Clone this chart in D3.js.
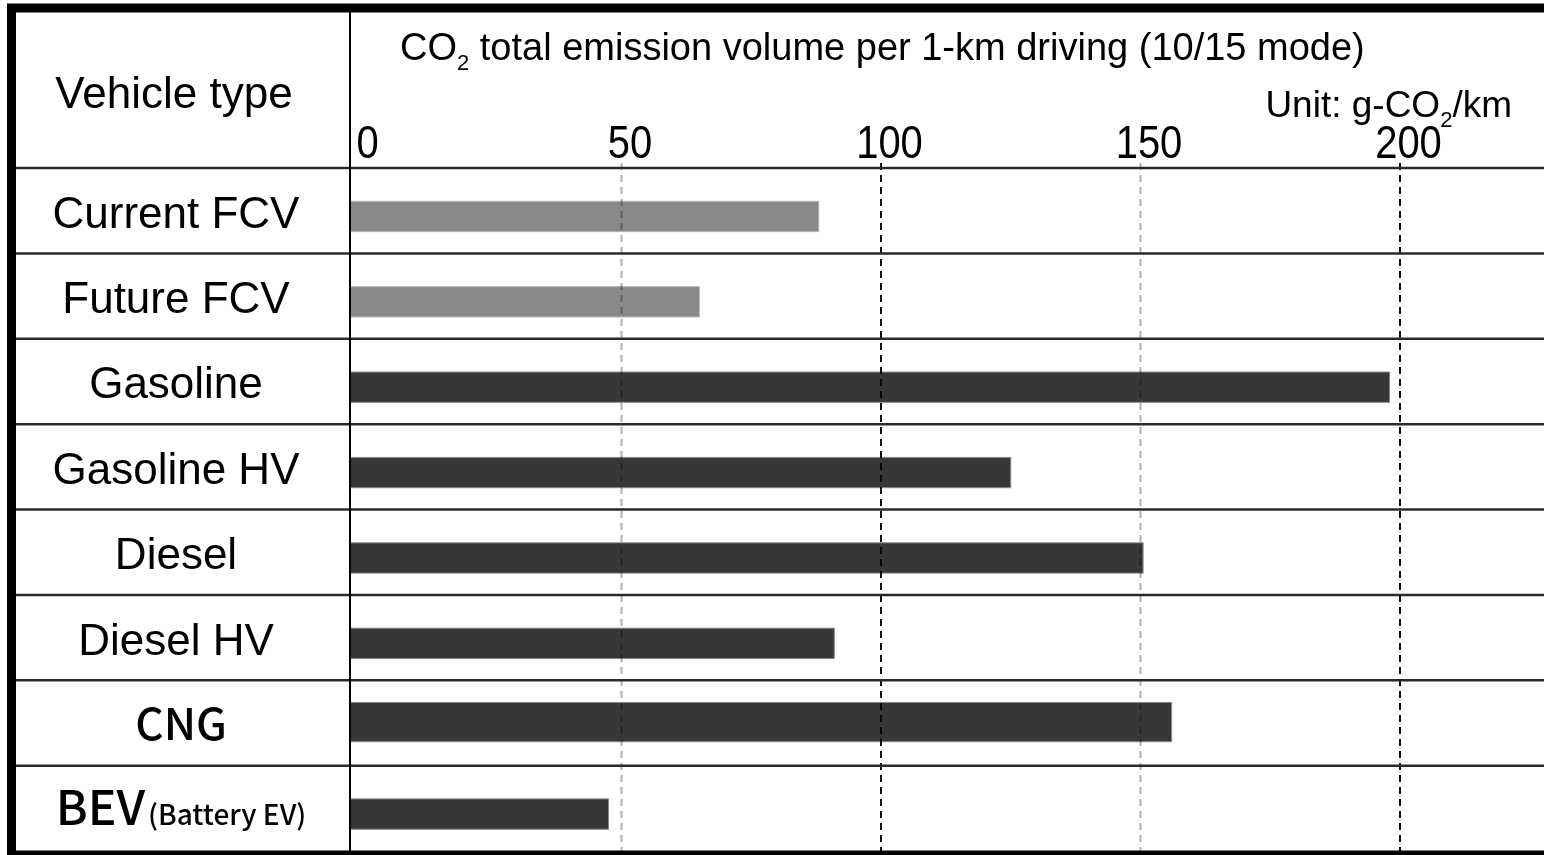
<!DOCTYPE html>
<html>
<head>
<meta charset="utf-8">
<script src="https://cdn.jsdelivr.net/npm/d3@7"></script>
<style>
  body { margin: 0; background: #fff; }
  svg { display: block; }
  text { font-family: "Liberation Sans", Arial, sans-serif; fill: #000; }
</style>
</head>
<body>
<script>
// CO2 emission per 1-km driving, g-CO2/km
var vehicleTypes = ["Current FCV", "Future FCV", "Gasoline", "Gasoline HV", "Diesel", "Diesel HV", "CNG", "BEV"];
var emissions = [88, 65, 198, 125, 150.5, 91, 156, 47.5];
var fcvTypes = ["Current FCV", "Future FCV"];
var tickValues = [0, 50, 100, 150, 200];

var width = 1544,
    height = 855;

var left = 350,      // column divider
    headerY = 168,   // header line
    bottomY = 851;

var svg = d3.select("body")
    .append("svg")
    .attr("width", width)
    .attr("height", height);

var x = d3.scaleLinear()
    .domain([0, 200])
    .range([362, 1400]);

var y = d3.scaleBand()
    .domain(vehicleTypes)
    .range([headerY, bottomY]);

var bw = y.bandwidth();

// bars
svg.append("g").selectAll("rect")
    .data(vehicleTypes)
    .enter()
    .append("rect")
    .attr("x", left)
    .attr("y", (d) => d == "CNG" ? y(d) + bw * 0.26 : y(d) + bw * 0.39)
    .attr("height", (d) => d == "CNG" ? bw * 0.46 : bw * 0.355)
    .attr("width", (d, i) => x(emissions[i]) - left)
    .attr("fill", (d) => fcvTypes.indexOf(d) >= 0 ? "#898989" : "#373737")
    .attr("stroke", (d) => fcvTypes.indexOf(d) >= 0 ? "#b5b5b5" : "#8a8a8a")
    .attr("stroke-width", 1);

// dashed gridlines over the bars
svg.append("g").selectAll("line")
    .data(tickValues.slice(1))
    .enter()
    .append("line")
    .attr("x1", (d) => x(d))
    .attr("x2", (d) => x(d))
    .attr("y1", headerY - 5)
    .attr("y2", bottomY)
    .attr("stroke", (d) => d % 100 == 0 ? "#111" : "#b0b0b0")
    .attr("stroke-width", 2)
    .attr("stroke-dasharray", "7,5")
    .style("mix-blend-mode", "multiply");

// row separators
svg.append("g").selectAll("line")
    .data(vehicleTypes.slice(1))
    .enter()
    .append("line")
    .attr("x1", 16)
    .attr("x2", width)
    .attr("y1", (d) => y(d))
    .attr("y2", (d) => y(d))
    .attr("stroke", "#2a2a2a")
    .attr("stroke-width", 2.5);

svg.append("line")
    .attr("x1", 16).attr("x2", width)
    .attr("y1", headerY).attr("y2", headerY)
    .attr("stroke", "#2a2a2a")
    .attr("stroke-width", 2.5);

svg.append("line")
    .attr("x1", left).attr("x2", left)
    .attr("y1", 12).attr("y2", bottomY)
    .attr("stroke", "#000")
    .attr("stroke-width", 2);

// outer frame (thick, runs off the right edge)
svg.append("rect")
    .attr("x", 11.5)
    .attr("y", 8)
    .attr("width", width + 20)
    .attr("height", 847)
    .attr("fill", "none")
    .attr("stroke", "#000")
    .attr("stroke-width", 9);

// axis on top
var axis = svg.append("g")
    .attr("transform", "translate(0,158)")
    .call(d3.axisTop(x).tickValues(tickValues).tickSize(0).tickPadding(0));

axis.select(".domain").remove();
axis.selectAll("text")
    .attr("font-family", "Liberation Sans, Arial, sans-serif")
    .attr("font-size", 40)
    .attr("fill", "#151515")
    .attr("text-anchor", (d) => d == 0 ? "start" : "middle")
    .attr("dy", 0)
    .attr("transform", (d) => d == 0 ? "translate(-6,0) scale(1,1.15)" : "translate(8,0) scale(1,1.15)");

// header texts
svg.append("text")
    .attr("x", 174)
    .attr("y", 108)
    .attr("text-anchor", "middle")
    .attr("font-size", 44)
    .text("Vehicle type");

var title = svg.append("text")
    .attr("x", 400)
    .attr("y", 60)
    .attr("font-size", 38);
title.append("tspan").text("CO");
title.append("tspan").attr("font-size", 22).attr("dy", 10).text("2");
title.append("tspan").attr("dy", -10).text(" total emission volume per 1-km driving (10/15 mode)");

var unit = svg.append("text")
    .attr("x", 1512)
    .attr("y", 117)
    .attr("text-anchor", "end")
    .attr("font-size", 37);
unit.append("tspan").text("Unit: g-CO");
unit.append("tspan").attr("font-size", 22).attr("dy", 10).text("2");
unit.append("tspan").attr("dy", -10).text("/km");

// row labels
var labels = svg.append("g").selectAll("text")
    .data(vehicleTypes)
    .enter()
    .append("text")
    .attr("x", (d) => (d == "CNG" || d == "BEV") ? 181 : 176)
    .attr("y", (d) => y(d) + bw / 2 + 17)
    .attr("text-anchor", "middle")
    .attr("font-size", 44);

labels.filter((d) => d != "BEV" && d != "CNG")
    .text((d) => d);

labels.filter((d) => d == "CNG")
    .style("font-family", "'Noto Sans CJK JP', sans-serif")
    .attr("font-weight", 500)
    .attr("font-size", 44)
    .text("CNG");

var bev = labels.filter((d) => d == "BEV")
    .style("font-family", "'Noto Sans CJK JP', sans-serif")
    .attr("font-weight", 500);
bev.append("tspan").attr("font-size", 48).text("BEV");
bev.append("tspan").attr("font-size", 28).attr("dx", 3).text("(Battery EV)");
</script>
</body>
</html>
